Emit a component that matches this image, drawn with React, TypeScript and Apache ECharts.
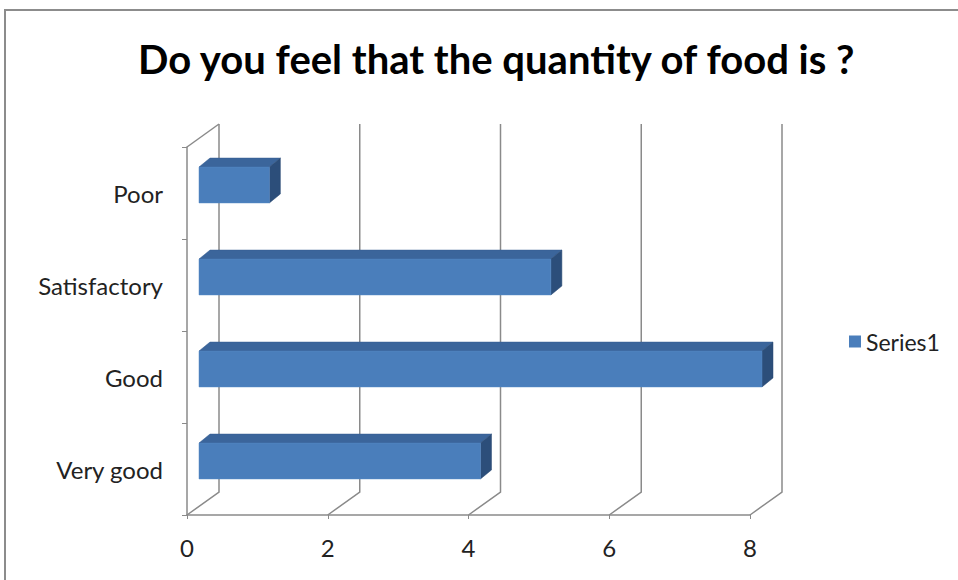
import React, { useEffect, useRef } from "react";
import * as echarts from "echarts";

const categories = ["Poor", "Satisfactory", "Good", "Very good"];
const values = [1, 5, 8, 4];
const xTicks = [0, 2, 4, 6, 8];
const seriesName = "Series1";
const titleText = "Do you feel that the quantity of food is ?";

const FONT = "Lato, 'Liberation Sans', sans-serif";
const BACK_DX = 32;
const BACK_DY = -23;
const BAR_DX = 12;
const BAR_DY = -8;
const DEPTH_DX = 11;
const DEPTH_DY = -9;
const LINE = "#8a8a8a";

export default function App() {
  const ref = useRef<HTMLDivElement>(null);
  useEffect(() => {
    if (!ref.current) return;
    const chart = echarts.init(ref.current, null, { renderer: "svg" });
    chart.setOption({
      animation: false,
      backgroundColor: "#ffffff",
      title: {
        text: titleText,
        left: 133,
        top: 34,
        textStyle: { fontFamily: FONT, fontSize: 40, fontWeight: "bold", color: "#000" },
      },
      legend: {
        left: 844,
        top: 325,
        orient: "vertical",
        itemWidth: 12,
        itemHeight: 12,
        itemGap: 4,
        textStyle: { fontFamily: FONT, fontSize: 23, color: "#222" },
        data: [{ name: seriesName, icon: "rect" }],
      },
      grid: { left: 187, top: 147, width: 563, height: 368, containLabel: false },
      xAxis: {
        type: "value",
        min: 0,
        max: 8,
        interval: 2,
        axisLine: { show: true, lineStyle: { color: LINE, width: 1.5 } },
        axisTick: { show: true, length: 4, lineStyle: { color: LINE } },
        splitLine: { show: false },
        axisLabel: { fontFamily: FONT, fontSize: 24, color: "#222", margin: 20 },
      },
      yAxis: {
        type: "category",
        data: categories,
        inverse: true,
        axisLine: { show: true, lineStyle: { color: LINE, width: 1.5 } },
        axisTick: { show: true, length: 5, lineStyle: { color: LINE } },
        axisLabel: { fontFamily: FONT, fontSize: 24, color: "#222", margin: 24 },
      },
      graphic: [
        {
          type: "rect",
          shape: { x: 5, y: 10, width: 1100, height: 800 },
          style: { fill: "none", stroke: "#8c8c8c", lineWidth: 2 },
          silent: true,
        },
      ],
      series: [
        {
          type: "custom",
          name: "walls",
          z: 1,
          data: xTicks.map((t) => [t, 0]),
          renderItem: (params: any, api: any) => {
            const v = api.value(0);
            const cs = params.coordSys;
            const px = api.coord([v, 0])[0];
            const bottom = cs.y + cs.height;
            const top = cs.y;
            const children: any[] = [
              {
                type: "polyline",
                shape: {
                  points: [
                    [px, bottom],
                    [px + BACK_DX, bottom + BACK_DY],
                    [px + BACK_DX, top + BACK_DY],
                  ],
                },
                style: { stroke: LINE, lineWidth: 1.5, fill: "none" },
              },
            ];
            if (params.dataIndex === 0) {
              children.push({
                type: "line",
                shape: { x1: px, y1: top, x2: px + BACK_DX, y2: top + BACK_DY },
                style: { stroke: LINE, lineWidth: 1.5 },
              });
            }
            return { type: "group", children };
          },
        },
        {
          type: "custom",
          name: seriesName,
          z: 3,
          itemStyle: { color: "#4a7ebb" },
          data: values.map((v, i) => [v, i]),
          renderItem: (params: any, api: any) => {
            const v = api.value(0);
            const c = api.value(1);
            const start = api.coord([0, c]);
            const end = api.coord([v, c]);
            const band = api.size([0, 1])[1];
            const h = band * 0.39;
            const x0 = start[0] + BAR_DX;
            const x1 = end[0] + BAR_DX;
            const yc = start[1] + BAR_DY;
            const y0 = yc - h / 2;
            const y1 = yc + h / 2;
            return {
              type: "group",
              children: [
                {
                  type: "polygon",
                  shape: {
                    points: [
                      [x0, y0],
                      [x1, y0],
                      [x1 + DEPTH_DX, y0 + DEPTH_DY],
                      [x0 + DEPTH_DX, y0 + DEPTH_DY],
                    ],
                  },
                  style: { fill: "#3b659b", stroke: "#355d90", lineWidth: 0.5 },
                },
                {
                  type: "polygon",
                  shape: {
                    points: [
                      [x1, y0],
                      [x1 + DEPTH_DX, y0 + DEPTH_DY],
                      [x1 + DEPTH_DX, y1 + DEPTH_DY],
                      [x1, y1],
                    ],
                  },
                  style: { fill: "#2c4e7a", stroke: "#2a4a74", lineWidth: 0.5 },
                },
                {
                  type: "rect",
                  shape: { x: x0, y: y0, width: x1 - x0, height: h },
                  style: { fill: "#4a7ebb", stroke: "#5588c4", lineWidth: 0.5 },
                },
              ],
            };
          },
        },
      ],
    });
    return () => chart.dispose();
  }, []);
  return (
    <div
      ref={ref}
      style={{ position: "fixed", left: 0, top: 0, width: 958, height: 580 }}
    />
  );
}
